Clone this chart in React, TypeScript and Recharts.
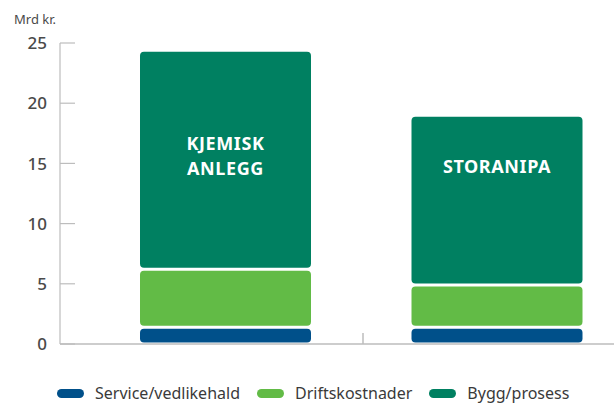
import { BarChart, Bar, XAxis, YAxis, Legend, LabelList, Label } from "recharts"

const categories = ["KJEMISK ANLEGG", "STORANIPA"]
const categoryLines = [["KJEMISK", "ANLEGG"], ["STORANIPA"]]
const seriesNames = ["Service/vedlikehald", "Driftskostnader", "Bygg/prosess"]
const service = [1.4, 1.4]
const drift = [4.8, 3.5]
const bygg = [18.2, 14.1]
const yTicks = [0, 5, 10, 15, 20, 25]

const data = categories.map((name, i) => ({
  name,
  lines: categoryLines[i],
  service: service[i],
  drift: drift[i],
  bygg: bygg[i],
}))

const W = 614
const H = 403
const Y_AXIS_W = 60
const PAD_LEFT = 30
const PAD_RIGHT = -19 // the right-hand category runs past the frame in the original
const BAND = (W - Y_AXIS_W - PAD_LEFT - PAD_RIGHT) / categories.length
const AXIS = "#bdbdbd"
const TEXT = "#4a4a4a"
const FONT = "'Noto Sans', sans-serif"

// each stacked segment sits a little apart from its neighbour
function GapBar(props: any) {
  const { x, y, width, height, fill } = props
  const h = Math.max(height - 3, 0)
  return <rect x={x} y={y + 1.5} width={width} height={h} rx={4} ry={4} fill={fill} />
}

function YTick({ x, y, payload }: any) {
  return (
    <g>
      <line x1={x} x2={x + 15} y1={y} y2={y} stroke={AXIS} strokeWidth={1.2} />
      <text x={x - 13} y={y} dy="0.36em" textAnchor="end" fill={TEXT} fontSize={17} fontFamily={FONT} fontWeight={500}>
        {payload.value}
      </text>
    </g>
  )
}

function XTick({ x, y, index }: any) {
  if (index !== 0) return null
  const dx = x + BAND / 2 + 1.5
  return <line x1={dx} x2={dx} y1={y} y2={y - 11} stroke={AXIS} strokeWidth={1.5} />
}

function BarTitle(props: any) {
  const { x, y, width, height, index } = props
  const lines: string[] = data[index].lines
  const cx = x + width / 2
  const cy = y + height - 115 + (lines.length > 1 ? 2 : -3)
  const step = 25
  const first = cy - ((lines.length - 1) * step) / 2
  return (
    <text textAnchor="middle" fill="#fff" fontSize={18} fontWeight={700} fontFamily={FONT} letterSpacing={0.6}>
      {lines.map((l, i) => (
        <tspan key={i} x={cx} y={first + i * step} dy="0.36em">
          {l}
        </tspan>
      ))}
    </text>
  )
}

function LegendContent({ payload }: any) {
  const items = seriesNames
    .map((n) => (payload || []).find((p: any) => p.value === n))
    .filter(Boolean)
  return (
    <div style={{ display: "flex", alignItems: "center", height: 22, lineHeight: "22px", paddingLeft: 57, fontFamily: FONT, fontSize: 16, color: "#3a3a3a" }}>
      {items.map((p: any) => (
        <div key={p.value} style={{ display: "flex", alignItems: "center", marginRight: 17 }}>
          <span style={{ width: 27, height: 9, borderRadius: 5, background: p.color, marginRight: 11 }} />
          <span>{p.value}</span>
        </div>
      ))}
    </div>
  )
}

export default function App() {
  return (
    <div style={{ position: "fixed", left: 0, top: 0, width: W, height: H, overflow: "hidden", background: "#fff" }}>
      <BarChart width={W} height={H} data={data} margin={{ top: 43, right: 0, left: 0, bottom: 17 }}>
        <YAxis
          width={Y_AXIS_W}
          domain={[0, 25]}
          ticks={yTicks}
          interval={0}
          tickSize={0}
          tickMargin={0}
          tickLine={false}
          axisLine={{ stroke: AXIS, strokeWidth: 1.2 }}
          tick={<YTick />}
        >
          <Label
            content={(p: any) => (
              <text x={p.viewBox.x + 35} y={p.viewBox.y - 19} textAnchor="middle" fill={TEXT} fontSize={13} fontFamily={FONT}>
                Mrd kr.
              </text>
            )}
          />
        </YAxis>
        <XAxis
          dataKey="name"
          height={20}
          padding={{ left: PAD_LEFT, right: PAD_RIGHT }}
          tickLine={false}
          tickSize={0}
          tickMargin={0}
          axisLine={{ stroke: AXIS, strokeWidth: 1.5 }}
          tick={<XTick />}
        />
        <Legend
          verticalAlign="bottom"
          align="left"
          wrapperStyle={{ top: 382, bottom: "auto", left: 0, height: 22 }}
          content={<LegendContent />}
        />
        <Bar dataKey="service" name={seriesNames[0]} stackId="a" fill="#00508a" barSize={171} shape={<GapBar />} isAnimationActive={false} />
        <Bar dataKey="drift" name={seriesNames[1]} stackId="a" fill="#62bb46" barSize={171} shape={<GapBar />} isAnimationActive={false} />
        <Bar dataKey="bygg" name={seriesNames[2]} stackId="a" fill="#008061" barSize={171} shape={<GapBar />} isAnimationActive={false}>
          <LabelList dataKey="name" content={<BarTitle />} />
        </Bar>
      </BarChart>
    </div>
  )
}
